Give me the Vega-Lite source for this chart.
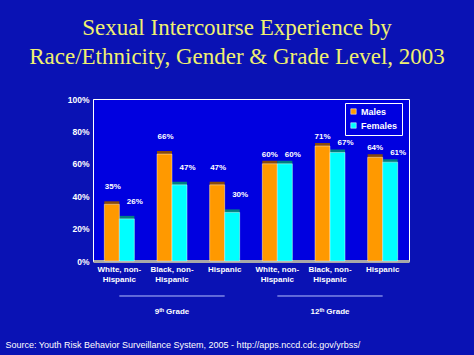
{
  "$schema": "https://vega.github.io/schema/vega-lite/v6.json",
  "autosize": "none",
  "width": 316,
  "height": 162,
  "padding": {"left": 93, "top": 99, "right": 65, "bottom": 94},
  "background": "#0a12b4",
  "config": {
    "view": {"stroke": "#ffffff", "strokeWidth": 1, "fill": "#0000e0"},
    "font": "Liberation Sans",
    "axis": {"labelOverlap": false},
    "axisY": {"labelOverlap": false, "tickCount": 6}
  },
  "title": {
    "text": ["Sexual Intercourse Experience by", "Race/Ethnicity, Gender & Grade Level, 2003"],
    "font": "Liberation Serif",
    "fontSize": 23,
    "fontWeight": "normal",
    "color": "#f0f070",
    "lineHeight": 29,
    "anchor": "middle",
    "frame": "group",
    "baseline": "alphabetic",
    "dx": -14,
    "dy": 25,
    "offset": 33
  },
  "datasets": {
    "bars": [
      {"group": "White, non-Hispanic, 9th", "grade": "9th", "gender": "Males", "pct": 35},
      {"group": "White, non-Hispanic, 9th", "grade": "9th", "gender": "Females", "pct": 26},
      {"group": "Black, non-Hispanic, 9th", "grade": "9th", "gender": "Males", "pct": 66},
      {"group": "Black, non-Hispanic, 9th", "grade": "9th", "gender": "Females", "pct": 47},
      {"group": "Hispanic, 9th", "grade": "9th", "gender": "Males", "pct": 47},
      {"group": "Hispanic, 9th", "grade": "9th", "gender": "Females", "pct": 30},
      {"group": "White, non-Hispanic, 12th", "grade": "12th", "gender": "Males", "pct": 60},
      {"group": "White, non-Hispanic, 12th", "grade": "12th", "gender": "Females", "pct": 60},
      {"group": "Black, non-Hispanic, 12th", "grade": "12th", "gender": "Males", "pct": 71},
      {"group": "Black, non-Hispanic, 12th", "grade": "12th", "gender": "Females", "pct": 67},
      {"group": "Hispanic, 12th", "grade": "12th", "gender": "Males", "pct": 64},
      {"group": "Hispanic, 12th", "grade": "12th", "gender": "Females", "pct": 61}
    ],
    "grades": [
      {"label": "9ᵗʰ Grade", "first": "White, non-Hispanic, 9th", "mid": "Black, non-Hispanic, 9th", "last": "Hispanic, 9th"},
      {"label": "12ᵗʰ Grade", "first": "White, non-Hispanic, 12th", "mid": "Black, non-Hispanic, 12th", "last": "Hispanic, 12th"}
    ]
  },
  "data": {"name": "bars"},
  "resolve": {"scale": {"color": "independent"}},
  "layer": [
    {
      "mark": {"type": "bar", "xOffset": 4, "yOffset": -3, "y2Offset": -3},
      "encoding": {
        "x": {
          "field": "group", "type": "nominal", "sort": null,
          "scale": {
            "domain": ["White, non-Hispanic, 9th", "Black, non-Hispanic, 9th", "Hispanic, 9th", "White, non-Hispanic, 12th", "Black, non-Hispanic, 12th", "Hispanic, 12th"],
            "paddingInner": 0.43, "paddingOuter": 0.215
          },
          "axis": {
            "title": "Source: Youth Risk Behavior Surveillance System, 2005 - http://apps.nccd.cdc.gov/yrbss/",
            "titleFont": "Liberation Sans", "titleFontSize": 9, "titleFontWeight": "normal", "titleColor": "#ffffff",
            "titleAnchor": "start", "titleAlign": "left", "titleBaseline": "alphabetic", "titleX": -88, "titleY": 86,
            "labelAngle": 0, "labelFontWeight": "bold", "labelFontSize": 8, "labelColor": "#ffffff",
            "labelLineHeight": 10, "labelPadding": 4, "labelBaseline": "top",
            "labelExpr": "indexof(datum.label, 'White') == 0 ? ['White, non-', 'Hispanic'] : indexof(datum.label, 'Black') == 0 ? ['Black, non-', 'Hispanic'] : 'Hispanic'",
            "ticks": false, "domainColor": "#a8a8a8", "domainWidth": 3, "grid": false
          }
        },
        "xOffset": {"field": "gender", "type": "nominal", "scale": {"domain": ["Males", "Females"]}},
        "y": {
          "field": "pct", "type": "quantitative",
          "scale": {"domain": [0, 100]},
          "axis": {
            "title": null, "values": [0, 20, 40, 60, 80, 100], "labelExpr": "datum.value + '%'",
            "labelOverlap": false, "labelFlush": false,
            "labelFontWeight": "bold", "labelFontSize": 8.5, "labelColor": "#ffffff", "labelPadding": 4,
            "ticks": false, "domainColor": "#ffffff", "grid": false
          }
        },
        "color": {"field": "gender", "type": "nominal", "legend": null,
          "scale": {"domain": ["Males", "Females"], "range": ["#8a4a0a", "#008080"]}}
      }
    },
    {
      "mark": {"type": "bar", "stroke": "#ffffff", "strokeWidth": 0.6, "strokeOpacity": 0.7},
      "encoding": {
        "x": {"field": "group", "type": "nominal", "sort": null},
        "xOffset": {"field": "gender", "type": "nominal", "scale": {"domain": ["Males", "Females"]}},
        "y": {"field": "pct", "type": "quantitative"},
        "color": {
          "field": "gender", "type": "nominal",
          "scale": {"domain": ["Males", "Females"], "range": ["#ff9900", "#00ffff"]},
          "legend": {
            "title": null, "orient": "none", "legendX": 252, "legendY": 4,
            "strokeColor": "#ffffff", "fillColor": null, "padding": 4,
            "symbolType": "square", "symbolSize": 30, "symbolStrokeColor": "#ffffff", "symbolStrokeWidth": 0.5,
            "labelFont": "Liberation Sans", "labelFontWeight": "bold", "labelFontSize": 9, "labelColor": "#ffffff",
            "rowPadding": 4, "labelOffset": 3
          }
        }
      }
    },
    {
      "transform": [{"filter": "datum.gender == 'Males' && datum.grade == '9th'"}],
      "mark": {"type": "text", "text": {"expr": "datum.pct + '%'"}, "color": "#ffffff", "fontWeight": "bold", "fontSize": 8, "dx": 1, "dy": -17},
      "encoding": {
        "x": {"field": "group", "type": "nominal", "sort": null},
        "xOffset": {"field": "gender", "type": "nominal", "scale": {"domain": ["Males", "Females"]}},
        "y": {"field": "pct", "type": "quantitative"}
      }
    },
    {
      "transform": [{"filter": "datum.gender == 'Females' && datum.grade == '9th'"}],
      "mark": {"type": "text", "text": {"expr": "datum.pct + '%'"}, "color": "#ffffff", "fontWeight": "bold", "fontSize": 8, "dx": 8, "dy": -17},
      "encoding": {
        "x": {"field": "group", "type": "nominal", "sort": null},
        "xOffset": {"field": "gender", "type": "nominal", "scale": {"domain": ["Males", "Females"]}},
        "y": {"field": "pct", "type": "quantitative"}
      }
    },
    {
      "transform": [{"filter": "datum.gender == 'Males' && datum.grade == '12th'"}],
      "mark": {"type": "text", "text": {"expr": "datum.pct + '%'"}, "color": "#ffffff", "fontWeight": "bold", "fontSize": 8, "dx": 0, "dy": -9},
      "encoding": {
        "x": {"field": "group", "type": "nominal", "sort": null},
        "xOffset": {"field": "gender", "type": "nominal", "scale": {"domain": ["Males", "Females"]}},
        "y": {"field": "pct", "type": "quantitative"}
      }
    },
    {
      "transform": [{"filter": "datum.gender == 'Females' && datum.grade == '12th'"}],
      "mark": {"type": "text", "text": {"expr": "datum.pct + '%'"}, "color": "#ffffff", "fontWeight": "bold", "fontSize": 8, "dx": 8, "dy": -9},
      "encoding": {
        "x": {"field": "group", "type": "nominal", "sort": null},
        "xOffset": {"field": "gender", "type": "nominal", "scale": {"domain": ["Males", "Females"]}},
        "y": {"field": "pct", "type": "quantitative"}
      }
    },
    {
      "data": {"name": "grades"},
      "mark": {"type": "rule", "color": "#b8c0ff", "strokeWidth": 1},
      "encoding": {
        "x": {"field": "first", "type": "nominal"},
        "x2": {"field": "last"},
        "y": {"datum": -21.6, "type": "quantitative"}
      }
    },
    {
      "data": {"name": "grades"},
      "mark": {"type": "text", "color": "#ffffff", "fontWeight": "bold", "fontSize": 8},
      "encoding": {
        "x": {"field": "mid", "type": "nominal"},
        "y": {"datum": -31.5, "type": "quantitative"},
        "text": {"field": "label"}
      }
    }
  ]
}
